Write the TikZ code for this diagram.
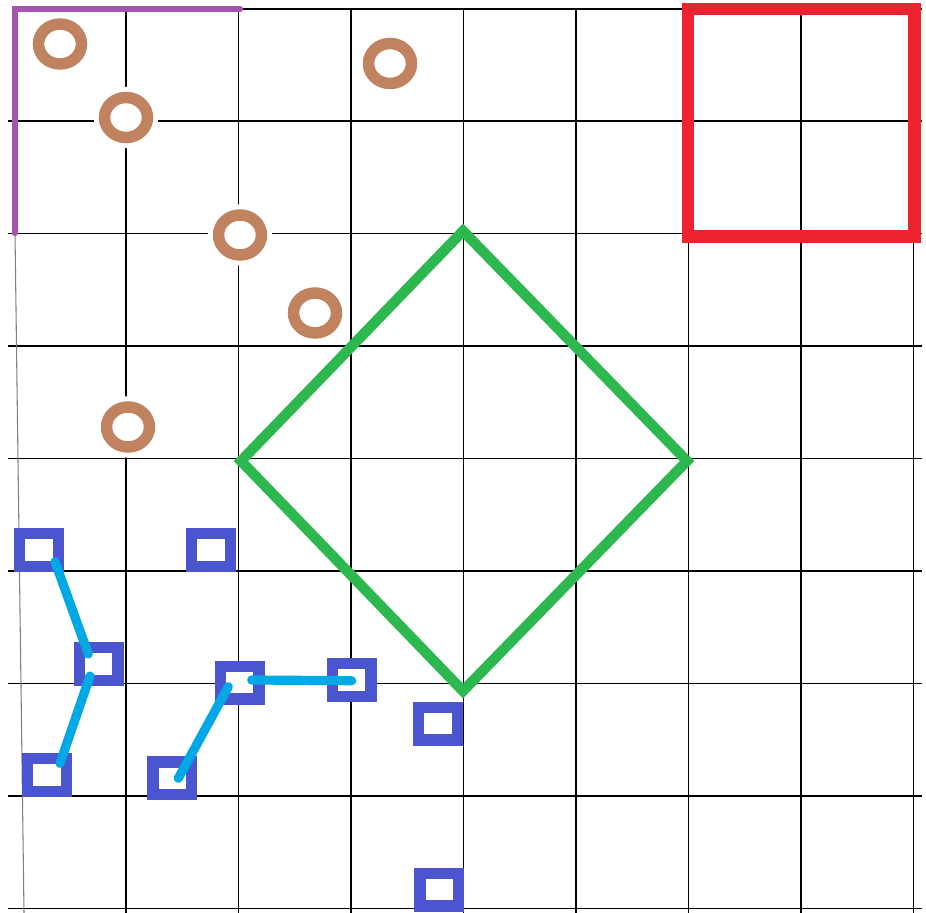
\documentclass[tikz,border=0pt]{standalone}
\usetikzlibrary{shapes.geometric}
\definecolor{ringbrown}{HTML}{C1835F}
\definecolor{purp}{HTML}{A853B0}
\definecolor{redsq}{HTML}{EE2330}
\definecolor{grn}{HTML}{2DB84F}
\definecolor{blu}{HTML}{4B55D0}
\definecolor{cyn}{HTML}{00A9E6}
\tikzset{
  gridline/.style={black,line width=1.1pt},
  ring/.style={ellipse,draw=ringbrown,fill=white,line width=8.6pt,inner sep=0pt,
    minimum width=32.25pt,minimum height=30pt,
    preaction={draw=white,line width=16pt}},
  sq/.style={rectangle,draw=blu,fill=white,line width=8.5pt,inner sep=0pt,
    minimum width=29pt,minimum height=24.5pt},
  link/.style={cyn,line width=6.9pt,line cap=round},
  frame/.style={purp,line width=4.8pt,line cap=round},
  bigsq/.style={redsq,line width=9.3pt},
  diam/.style={grn,line width=7.8pt}
}
\begin{document}
\begin{tikzpicture}[x=0.75pt,y=-0.75pt]
\useasboundingbox (0,0) rectangle (926,913);
% grid
\foreach \yy in {121,233.5,346,458.5,571,683.5,796,908.5}
  \draw[gridline] (8,\yy) -- (922,\yy);
\draw[gridline] (240,9) -- (922,9);
\foreach \xx in {126,238.5,351,463.5,576,688.5,801,913.5}
  \draw[gridline] (\xx,9) -- (\xx,913);
\draw[gray,line width=0.8pt] (15,233) -- (24,913);
% purple frame
\coordinate (pa) at (15,233);
\coordinate (pb) at (15,9);
\coordinate (pc) at (240,9);
\draw[frame] (pa) -- (pb) -- (pc);
% red square
\coordinate (r1) at (688,9);
\coordinate (r2) at (914.5,236.5);
\draw[bigsq] (r1) rectangle (r2);
% green diamond
\coordinate (dt) at (463,231);
\coordinate (dr) at (687,461);
\coordinate (db) at (463,691);
\coordinate (dl) at (241,461);
\draw[diam] (dt) -- (dr) -- (db) -- (dl) -- cycle;
% rings
\node[ring] (c1) at (60,44) {};
\node[ring] (c2) at (126,117.5) {};
\node[ring] (c3) at (240,235) {};
\node[ring] (c4) at (390,63.5) {};
\node[ring] (c5) at (315,313) {};
\node[ring] (c6) at (128,427) {};
% squares
\node[sq] (s1) at (39,550) {};
\node[sq] (s2) at (211,550) {};
\node[sq] (s3) at (98.7,664) {};
\node[sq] (s4) at (239.7,682.7) {};
\node[sq] (s5) at (351.7,680) {};
\node[sq] (s6) at (47,775) {};
\node[sq] (s7) at (172.3,778.3) {};
\node[sq] (s8) at (438,723.7) {};
\node[sq] (s9) at (439.3,889.5) {};
% connector end points
\coordinate (a1) at (55,561.7);
\coordinate (a2) at (88.3,654);
\coordinate (b1) at (90,676);
\coordinate (b2) at (60,763.3);
\coordinate (e1) at (228.3,686.7);
\coordinate (e2) at (178.3,778.3);
\coordinate (f1) at (251.7,680);
\coordinate (f2) at (351.7,680.7);
\draw[link] (a1) -- (a2);
\draw[link] (b1) -- (b2);
\draw[link] (e1) -- (e2);
\draw[link] (f1) -- (f2);
\end{tikzpicture}
\end{document}
